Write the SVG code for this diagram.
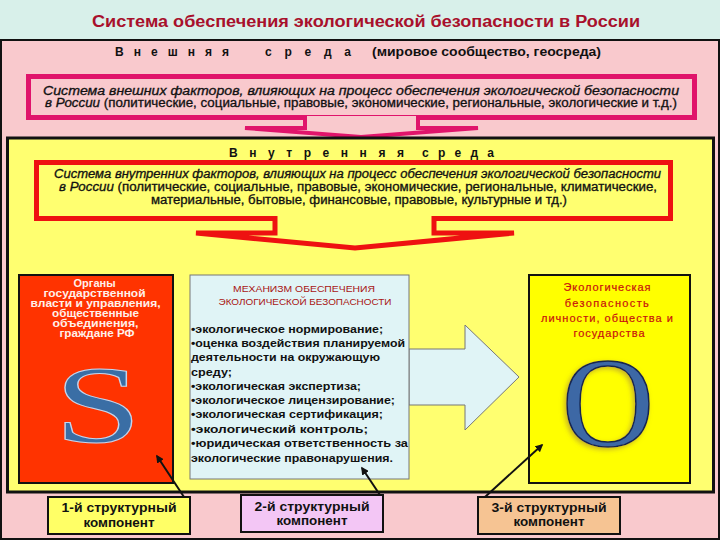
<svg xmlns="http://www.w3.org/2000/svg" width="720" height="540" viewBox="0 0 720 540">
<style>
.sans{font-family:"Liberation Sans",Arial,sans-serif}
.bold{font-weight:bold}
.it{font-style:italic}
.serif{font-family:"Liberation Serif","Times New Roman",serif}
.blk{fill:#111}
.thick{stroke:#111;stroke-width:0.3}
.mech{font-family:"Liberation Sans",Arial,sans-serif;font-size:10.5px;font-weight:bold;fill:#111}
.cmp{font-family:"Liberation Sans",Arial,sans-serif;font-size:12.5px;font-weight:bold;fill:#111;text-anchor:middle}
.org{font-family:"Liberation Sans",Arial,sans-serif;font-size:10.5px;font-weight:bold;fill:#fff0ea;text-anchor:middle}
.eco{font-family:"Liberation Sans",Arial,sans-serif;font-size:11px;fill:#c8100e;stroke:#c8100e;stroke-width:0.2;text-anchor:middle}
</style>
<defs>
<marker id="ah" viewBox="0 0 10 10" refX="8" refY="5" markerWidth="4" markerHeight="4" orient="auto">
<path d="M0,0 L10,5 L0,10 z" fill="#111"/>
</marker>
<filter id="glow" x="-20%" y="-20%" width="140%" height="140%">
<feDropShadow dx="-2" dy="2" stdDeviation="2.5" flood-color="#b8a030" flood-opacity="0.8"/>
</filter>
</defs>

<rect x="0" y="0" width="720" height="40" fill="#d8f0ea"/>
<text x="366" y="27" class="sans bold" font-size="16" fill="#a8102c" text-anchor="middle" textLength="548" lengthAdjust="spacingAndGlyphs">Система обеспечения экологической безопасности в России</text>

<g id="outer">
<rect x="1" y="40" width="718" height="499" fill="#f9c9cd" stroke="#111" stroke-width="2"/>
<text y="56" class="sans bold blk" font-size="12">
<tspan x="115" textLength="114" lengthAdjust="spacing">В н е ш н я я</tspan>
<tspan x="265" textLength="86" lengthAdjust="spacing">с р е д а</tspan>
<tspan x="372" textLength="229" lengthAdjust="spacingAndGlyphs">(мировое сообщество, геосреда)</tspan>
</text>
</g>

<g id="external-factors">
<rect x="28.5" y="76.5" width="666" height="41" fill="#f9c9cd" stroke="#e0146b" stroke-width="5"/>
<text x="43" y="95" class="sans it blk thick" font-size="12" textLength="636" lengthAdjust="spacingAndGlyphs">Система внешних   факторов,  влияющих  на  процесс обеспечения экологической безопасности</text>
<text x="45" y="107" class="sans blk thick" font-size="12" textLength="632" lengthAdjust="spacingAndGlyphs"><tspan class="it">в России</tspan> (политические, социальные, правовые, экономические, региональные, экологические и т.д.)</text>
<path d="M305,116 L305,128 L245,128 L361,137 L478,128 L418,128 L418,116" fill="#f9c9cd" stroke="#e0146b" stroke-width="4"/>
</g>

<g id="internal">
<rect x="7.5" y="138" width="706" height="354" fill="#ffff70" stroke="#111" stroke-width="3"/>
<text y="157" class="sans bold blk" font-size="12">
<tspan x="229" textLength="175" lengthAdjust="spacing">В н у т р е н н я я</tspan>
<tspan x="422" textLength="72" lengthAdjust="spacing">с р е д а</tspan>
</text>
</g>

<g id="internal-factors">
<rect x="36.5" y="162.5" width="634" height="56" fill="#ffff70" stroke="#ee1111" stroke-width="5"/>
<text x="54" y="178" class="sans it blk thick" font-size="12" textLength="607" lengthAdjust="spacingAndGlyphs">Система внутренних факторов, влияющих на процесс обеспечения экологической безопасности</text>
<text x="59" y="191" class="sans blk thick" font-size="12" textLength="598" lengthAdjust="spacingAndGlyphs"><tspan class="it">в России</tspan> (политические, социальные, правовые, экономические, региональные, климатические,</text>
<text x="151" y="203.5" class="sans blk thick" font-size="12" textLength="416" lengthAdjust="spacingAndGlyphs">материальные, бытовые, финансовые, правовые, культурные и тд.)</text>
<path d="M275,216 L275,233 L196,233 L355,248 L514,233 L434,233 L434,216" fill="#ffff70" stroke="#ee1111" stroke-width="5"/>
</g>

<g id="subject">
<rect x="19" y="275" width="154" height="208" fill="#ff3300" stroke="#111" stroke-width="2"/>
<text class="org">
<tspan x="96" y="287" textLength="42" lengthAdjust="spacingAndGlyphs">Органы</tspan>
<tspan x="96" y="297" textLength="102" lengthAdjust="spacingAndGlyphs">государственной</tspan>
<tspan x="97" y="307" textLength="130" lengthAdjust="spacingAndGlyphs">власти и управления,</tspan>
<tspan x="97" y="317" textLength="87" lengthAdjust="spacingAndGlyphs">общественные</tspan>
<tspan x="97" y="327" textLength="86" lengthAdjust="spacingAndGlyphs">объединения,</tspan>
<tspan x="97" y="337" textLength="75" lengthAdjust="spacingAndGlyphs">граждане РФ</tspan>
</text>
<text class="serif" transform="translate(98,442) scale(1.42,1)" font-size="110" fill="#3a6ea5" stroke="#c3d5ee" stroke-width="1" text-anchor="middle">S</text>
</g>

<g id="mechanism">
<polygon points="409,349 465,349 465,325 519,377 465,430 465,405 409,405" fill="#e0f4f6" stroke="#777" stroke-width="1"/>
<rect x="190" y="275" width="219" height="204" fill="#e0f4f6" stroke="#777" stroke-width="1"/>
<text x="304" y="292" class="sans" font-size="9" fill="#a81414" text-anchor="middle" textLength="142" lengthAdjust="spacingAndGlyphs">МЕХАНИЗМ  ОБЕСПЕЧЕНИЯ</text>
<text x="305" y="305" class="sans" font-size="9" fill="#a81414" text-anchor="middle" textLength="173" lengthAdjust="spacingAndGlyphs">ЭКОЛОГИЧЕСКОЙ БЕЗОПАСНОСТИ</text>
<text class="mech" x="191" y="333" textLength="192" lengthAdjust="spacingAndGlyphs">•экологическое нормирование;</text>
<text class="mech" x="191" y="347" textLength="214" lengthAdjust="spacingAndGlyphs">•оценка воздействия планируемой</text>
<text class="mech" x="191" y="361" textLength="189" lengthAdjust="spacingAndGlyphs">деятельности на окружающую</text>
<text class="mech" x="191" y="375.5" textLength="41" lengthAdjust="spacingAndGlyphs">среду;</text>
<text class="mech" x="191" y="390" textLength="170" lengthAdjust="spacingAndGlyphs">•экологическая экспертиза;</text>
<text class="mech" x="191" y="404" textLength="204" lengthAdjust="spacingAndGlyphs">•экологическое лицензирование;</text>
<text class="mech" x="191" y="418" textLength="192" lengthAdjust="spacingAndGlyphs">•экологическая сертификация;</text>
<text class="mech" x="191" y="432.5" textLength="177" lengthAdjust="spacingAndGlyphs">•экологический контроль;</text>
<text class="mech" x="191" y="447" textLength="217" lengthAdjust="spacingAndGlyphs">•юридическая ответственность за</text>
<text class="mech" x="191" y="461.5" textLength="202" lengthAdjust="spacingAndGlyphs">экологические правонарушения.</text>
</g>

<g id="object">
<rect x="529" y="275" width="161" height="208" fill="#ffff00" stroke="#111" stroke-width="2"/>
<text class="eco">
<tspan x="609" y="291" textLength="87" lengthAdjust="spacing">Экологическая</tspan>
<tspan x="609" y="307" textLength="84" lengthAdjust="spacing">безопасность</tspan>
<tspan x="609" y="322" textLength="132" lengthAdjust="spacing">личности, общества и</tspan>
<tspan x="609" y="337" textLength="71" lengthAdjust="spacing">государства</tspan>
</text>
<text class="serif" x="608" y="446" font-size="128" fill="#3d68a5" stroke="#15264f" stroke-width="1.5" text-anchor="middle" filter="url(#glow)">O</text>
</g>

<g id="comp1">
<rect x="48" y="497" width="142" height="37" fill="#ffff66" stroke="#111" stroke-width="2"/>
<text class="cmp" x="119" y="512" textLength="115" lengthAdjust="spacingAndGlyphs">1-й структурный</text>
<text class="cmp" x="119" y="527" textLength="71" lengthAdjust="spacingAndGlyphs">компонент</text>
</g>
<g id="comp2">
<rect x="241" y="495" width="142" height="37" fill="#f3c6f5" stroke="#111" stroke-width="2"/>
<text class="cmp" x="312" y="511" textLength="115" lengthAdjust="spacingAndGlyphs">2-й структурный</text>
<text class="cmp" x="312" y="525" textLength="71" lengthAdjust="spacingAndGlyphs">компонент</text>
</g>
<g id="comp3">
<rect x="478" y="497" width="142" height="37" fill="#f6c493" stroke="#111" stroke-width="2"/>
<text class="cmp" x="549" y="512" textLength="115" lengthAdjust="spacingAndGlyphs">3-й структурный</text>
<text class="cmp" x="549" y="526" textLength="71" lengthAdjust="spacingAndGlyphs">компонент</text>
</g>

<g id="connectors" stroke="#111" stroke-width="2" fill="none">
<line x1="184" y1="497" x2="157" y2="456" marker-end="url(#ah)"/>
<line x1="380" y1="495" x2="362" y2="468" marker-end="url(#ah)"/>
<line x1="485" y1="497" x2="542" y2="445" marker-end="url(#ah)"/>
</g>
</svg>
